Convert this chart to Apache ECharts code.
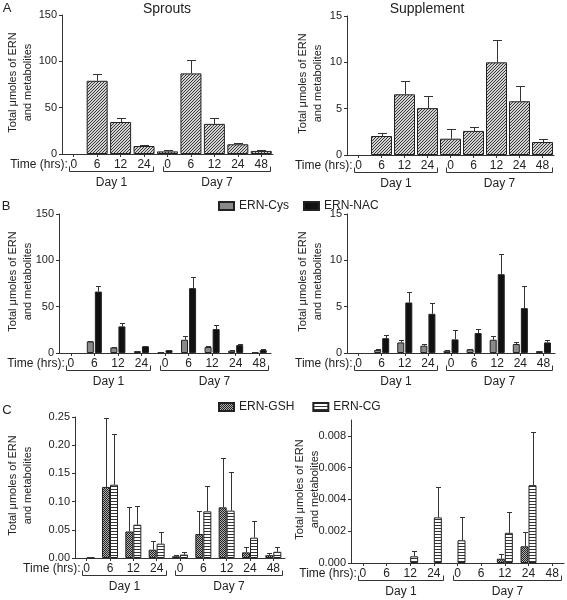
<!DOCTYPE html>
<html><head><meta charset="utf-8">
<script src="https://cdn.jsdelivr.net/npm/echarts@6/dist/echarts.min.js"></script>
<style>html,body{margin:0;padding:0;background:#fff}#c{width:567px;height:600px}</style>
</head><body><div id="c"></div>
<script>
// ---------- data ----------
const timeLabels = ['0','6','12','24','0','6','12','24','48'];
const dayGroups = [{name:'Day 1', from:0, to:3}, {name:'Day 7', from:4, to:8}];

// Panel A
const sproutsMean = [0, 79, 34.5, 8.6, 2.8, 87, 32.5, 10.5, 3.3];
const sproutsSD   = [0, 7, 4, 1.4, 1.2, 14, 6.5, 1.5, 1.2];
const supplMean   = [0, 2.05, 6.55, 5.06, 1.76, 2.6, 10.0, 5.8, 1.4];
const supplSD     = [0, 0.3, 1.42, 1.34, 1.01, 0.45, 2.45, 1.66, 0.29];

// Panel B
const sprCysMean = [0, 12.5, 6, 2, 0.8, 14.3, 6.5, 2.5, 0.8];
const sprCysSD   = [0, 0.8, 0.8, 0.3, 0.2, 4.3, 1.5, 0.4, 0.2];
const sprNacMean = [0, 66.3, 28.7, 7.2, 3, 70, 25.8, 8.5, 3.2];
const sprNacSD   = [0, 6.1, 3.6, 0.8, 0.5, 11.8, 4.7, 1, 0.8];
const supCysMean = [0, 0.33, 1.14, 0.79, 0.25, 0.4, 1.43, 0.97, 0.2];
const supCysSD   = [0, 0.06, 0.22, 0.21, 0.05, 0.08, 0.43, 0.23, 0.04];
const supNacMean = [0, 1.6, 5.45, 4.23, 1.47, 2.15, 8.5, 4.84, 1.14];
const supNacSD   = [0, 0.37, 1.15, 1.15, 0.96, 0.43, 2.2, 2.4, 0.22];

// Panel C
const sprGshMean = [0, 0.126, 0.047, 0.0147, 0.003, 0.0425, 0.0898, 0.01, 0.005];
const sprGshSD   = [0, 0.123, 0.043, 0.0148, 0.002, 0.0415, 0.087, 0.01, 0.003];
const sprCgMean  = [0.0005, 0.13, 0.059, 0.0254, 0.006, 0.0827, 0.084, 0.036, 0.011];
const sprCgSD    = [0, 0.09, 0.0325, 0.0212, 0.005, 0.0453, 0.069, 0.029, 0.008];
const supGshMean = [0, 0, 0, 0, 0, 0, 0.00027, 0.00105, 0];
const supGshSD   = [0, 0, 0, 0, 0, 0, 0.00028, 0.00091, 0];
const supCgMean  = [0, 0, 0.00042, 0.00287, 0.00143, 0, 0.0019, 0.0049, 0];
const supCgSD    = [0, 0, 0.00034, 0.00189, 0.00144, 0, 0.0013, 0.00333, 0];

const yTicksA = [0, 50, 100, 150];
const yTicksA2 = [0, 5, 10, 15];
const yTicksC = [0, 0.05, 0.10, 0.15, 0.20, 0.25];
const yTicksC2 = [0, 0.002, 0.004, 0.006, 0.008];

// ---------- styles ----------
const FONT = '"Liberation Sans", Arial, sans-serif';
const TXT = '#222';
function pattern(w, h, bg, pts, fg) {
  const c = document.createElement('canvas'); c.width = w; c.height = h;
  const x = c.getContext('2d'); x.fillStyle = bg; x.fillRect(0, 0, w, h);
  x.fillStyle = fg; pts.forEach(p => x.fillRect(p[0], p[1], 1, 1));
  return {image: c, repeat: 'repeat'};
}
const hatch = pattern(3, 3, '#d2d2d2', [[2,0],[1,1],[0,2]], '#3a3a3a');
const checker = pattern(2, 2, '#b0b0b0', [[0,0],[1,1]], '#222');
const stripes = pattern(1, 3, '#ffffff', [[0,0]], '#333');

const panels = [
  {grid:{left:62, top:15, width:211, height:139}, max:150, interval:50, ticks:yTicksA, dec:0, nameX:20},
  {grid:{left:347, top:16, width:207, height:139}, max:15, interval:5, ticks:yTicksA2, dec:0, nameX:310},
  {grid:{left:59, top:214, width:212, height:139}, max:150, interval:50, ticks:yTicksA, dec:0, nameX:20},
  {grid:{left:347, top:214, width:208, height:139}, max:15, interval:5, ticks:yTicksA2, dec:0, nameX:310},
  {grid:{left:75, top:417, width:210, height:141}, max:0.25, interval:0.05, ticks:yTicksC, dec:2, nameX:20},
  {grid:{left:351, top:420, width:213, height:143}, max:0.009, interval:0.002, ticks:yTicksC2, dec:3, nameX:307}
];

const nz = arr => arr.map(v => v === 0 ? '-' : v);
function errData(mean, sd) {
  const out = [];
  mean.forEach((m, i) => { if (sd[i] > 0) out.push([i, m, m + sd[i]]); });
  return out;
}
function errRender(offset, cap) {
  return function (params, api) {
    const i = api.value(0), lo = api.value(1), hi = api.value(2);
    const p0 = api.coord([i, lo]), p1 = api.coord([i, hi]);
    const x = Math.round(p0[0] + offset) + 0.5;
    const yt = Math.round(p1[1]) + 0.5;
    return {type:'group', children:[
      {type:'line', shape:{x1:x, y1:p0[1], x2:x, y2:yt}, style:{stroke:'#333', lineWidth:1}},
      {type:'line', shape:{x1:x - cap/2, y1:yt, x2:x + cap/2, y2:yt}, style:{stroke:'#333', lineWidth:1}}
    ]};
  };
}
const series = [];
function addBar(k, name, mean, sd, color, w, gap, offset, cap) {
  series.push({type:'bar', name, xAxisIndex:k, yAxisIndex:k, data:nz(mean), barWidth:w, barGap:gap,
    itemStyle:{color, borderColor:'#222', borderWidth:1}, emphasis:{disabled:true}});
  series.push({type:'custom', xAxisIndex:k, yAxisIndex:k, data:errData(mean, sd), z:5,
    renderItem:errRender(offset, cap), silent:true});
}
addBar(0, 'Sprouts', sproutsMean, sproutsSD, hatch, 21, '0%', 0, 9);
addBar(1, 'Supplement', supplMean, supplSD, hatch, 21, '0%', 0, 9);
addBar(2, 'ERN-Cys', sprCysMean, sprCysSD, '#8a8a8a', 7, '15%', -4, 5);
addBar(2, 'ERN-NAC', sprNacMean, sprNacSD, '#111', 7, '15%', 4, 5);
addBar(3, 'ERN-Cys', supCysMean, supCysSD, '#8a8a8a', 7, '15%', -4, 5);
addBar(3, 'ERN-NAC', supNacMean, supNacSD, '#111', 7, '15%', 4, 5);
addBar(4, 'ERN-GSH', sprGshMean, sprGshSD, checker, 8, '0%', -4, 5);
addBar(4, 'ERN-CG', sprCgMean, sprCgSD, stripes, 8, '0%', 4, 5);
addBar(5, 'ERN-GSH', supGshMean, supGshSD, checker, 8, '0%', -4, 5);
addBar(5, 'ERN-CG', supCgMean, supCgSD, stripes, 8, '0%', 4, 5);

const option = {
  animation: false,
  textStyle: {fontFamily: FONT, color: TXT},
  grid: panels.map(p => Object.assign({containLabel:false}, p.grid)),
  xAxis: panels.map((p, k) => ({type:'category', gridIndex:k, data:timeLabels,
    axisLine:{lineStyle:{color:'#333', width:1}},
    axisTick:{show:true, alignWithLabel:true, length:3, lineStyle:{color:'#333'}},
    axisLabel:{fontSize:12, color:TXT, margin:5, interval:0, fontFamily:FONT},
    splitLine:{show:false}})),
  yAxis: panels.map((p, k) => ({type:'value', gridIndex:k, min:0, max:p.max, interval:p.interval,
    axisLine:{show:true, lineStyle:{color:'#333', width:1}},
    axisTick:{show:true, length:3, lineStyle:{color:'#333'}, customValues:p.ticks},
    axisLabel:{fontSize:11, color:TXT, margin:5, fontFamily:FONT, customValues:p.ticks,
      formatter: v => (p.ticks.some(t => Math.abs(t - v) < 1e-9) ? v.toFixed(p.dec) : '')},
    splitLine:{show:false}})),
  legend: [
    {data:['ERN-Cys','ERN-NAC'], left:213, top:195, itemWidth:15, itemHeight:8, itemGap:14,
     textStyle:{fontSize:12, color:TXT, fontFamily:FONT}, selectedMode:false, icon:'rect'},
    {data:['ERN-GSH','ERN-CG'], left:213, top:396, itemWidth:15, itemHeight:8, itemGap:18,
     textStyle:{fontSize:12, color:TXT, fontFamily:FONT}, selectedMode:false, icon:'rect'}
  ],
  series
};
const chart = echarts.init(document.getElementById('c'), null, {renderer:'canvas'});
chart.setOption(option);

// ---------- annotations ----------
const g = [];
const txt = (x, y, s, size, align, extra) => g.push(Object.assign({type:'text', x, y,
  style:{text:s, font:size + 'px ' + FONT, fill:TXT, textAlign:align || 'center', textVerticalAlign:'middle'}}, extra || {}));
txt(167, 9, 'Sprouts', 14);
txt(427, 9, 'Supplement', 14);
txt(7, 8, 'A', 13);
txt(6, 206, 'B', 13);
txt(7, 410, 'C', 13);
panels.forEach((p, k) => {
  const bottom = p.grid.top + p.grid.height;
  const px = i => chart.convertToPixel({xAxisIndex:k}, i);
  g.push({type:'text', x:p.nameX, y:p.grid.top + p.grid.height/2 - 2, rotation:Math.PI/2,
    style:{text:'Total μmoles of ERN\nand metabolites', font:'11px ' + FONT, fill:TXT,
      textAlign:'center', textVerticalAlign:'middle', lineHeight:15}});
  txt(px(0) - 6, bottom + 11, 'Time (hrs):', 12, 'right');
  dayGroups.forEach(d => {
    const l = Math.round(px(d.from) - 5) + 0.5, r = Math.round(px(d.to) + 9) + 0.5;
    const yb = bottom + 17.5;
    g.push({type:'polyline', shape:{points:[[l, yb - 5], [l, yb], [r, yb], [r, yb - 5]]},
      style:{stroke:'#333', lineWidth:1, fill:null}});
    txt((l + r) / 2, bottom + 29, d.name, 12);
  });
});
chart.setOption({graphic: g});
</script></body></html>
